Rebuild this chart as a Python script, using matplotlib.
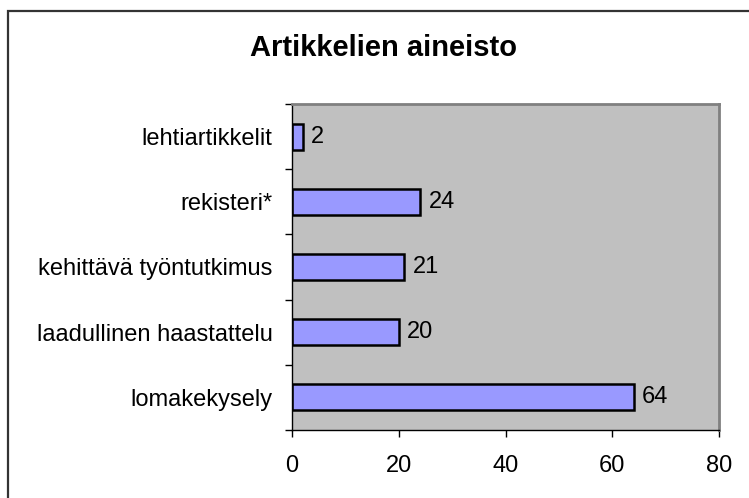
import matplotlib.pyplot as plt
from matplotlib.patches import Rectangle
import numpy as np

plt.rcParams['font.family'] = ['Liberation Sans', 'DejaVu Sans']

categories = ['lomakekysely', 'laadullinen haastattelu', 'kehittävä työntutkimus',
              'rekisteri*', 'lehtiartikkelit']
values = [64, 20, 21, 24, 2]
xticks = [0, 20, 40, 60, 80]

fig = plt.figure(figsize=(7.49, 4.98), dpi=100)

# outer chart border (only left/top inside the picture)
fig.patches.append(Rectangle((8 / 749, -1), 5, 2 - 11 / 498,
                             transform=fig.transFigure, fill=False,
                             edgecolor='#333333', linewidth=1.6))

ax = fig.add_axes([292 / 749, 1 - 430 / 498, (719 - 292) / 749, (430 - 104) / 498])
ax.set_facecolor('#C0C0C0')

locs = np.arange(len(categories))
bars = ax.barh(locs, values, height=0.4, color='#9999FF', edgecolor='black', linewidth=1.8)

for bar, v in zip(bars, values):
    ax.annotate(str(v), xy=(bar.get_width(), bar.get_y() + bar.get_height() / 2),
                xytext=(6, 0), textcoords='offset points', va='center', ha='left',
                fontsize=17)

ax.set_xlim(0, 80)
ax.set_ylim(-0.5, len(categories) - 0.5)
ax.set_xticks(xticks)
ax.set_xticklabels([str(t) for t in xticks], fontsize=17)
ax.tick_params(axis='x', direction='out', length=5, width=1, pad=13)

ax.set_yticks(locs)
ax.set_yticklabels(categories, fontsize=17)
ax.tick_params(axis='y', length=0, pad=14)
ax.set_yticks(np.arange(-0.5, len(categories)), minor=True)
ax.tick_params(axis='y', which='minor', direction='out', length=5, width=1)

for side in ['top', 'right']:
    ax.spines[side].set_color('#808080')
    ax.spines[side].set_linewidth(2)
for side in ['left', 'bottom']:
    ax.spines[side].set_color('black')
    ax.spines[side].set_linewidth(1)

fig.text(383 / 749, 1 - 48 / 498, 'Artikkelien aineisto', ha='center', va='center',
         fontsize=21, fontweight='bold')

fig.savefig('out.png', dpi=100)
